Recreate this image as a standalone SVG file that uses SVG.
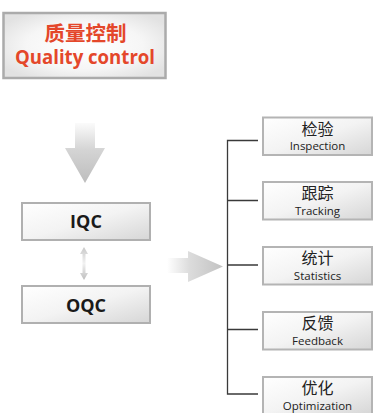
<svg xmlns="http://www.w3.org/2000/svg" width="374" height="413" viewBox="0 0 374 413">
<defs>
<radialGradient id="gTitle" cx="0.5" cy="0.5" r="0.6">
<stop offset="0" stop-color="#ffffff"/>
<stop offset="0.6" stop-color="#f6f6f6"/>
<stop offset="1" stop-color="#e2e2e2"/>
</radialGradient>
<linearGradient id="gBox" x1="0" y1="0" x2="1" y2="1">
<stop offset="0" stop-color="#ffffff"/>
<stop offset="0.5" stop-color="#f3f3f3"/>
<stop offset="1" stop-color="#d6d6d6"/>
</linearGradient>
<linearGradient id="gDown" x1="0" y1="0" x2="0" y2="1">
<stop offset="0" stop-color="#fbfbfb"/>
<stop offset="0.45" stop-color="#d4d4d4"/>
<stop offset="1" stop-color="#bdbdbd"/>
</linearGradient>
<linearGradient id="gRight" x1="0" y1="0" x2="1" y2="0">
<stop offset="0" stop-color="#ffffff"/>
<stop offset="0.4" stop-color="#dcdcdc"/>
<stop offset="1" stop-color="#c2c2c2"/>
</linearGradient>
<linearGradient id="gDbl" x1="0" y1="0" x2="0" y2="1">
<stop offset="0" stop-color="#c8c8c8"/>
<stop offset="0.5" stop-color="#f2f2f2"/>
<stop offset="1" stop-color="#bdbdbd"/>
</linearGradient>
</defs>
<style>
.box{fill:url(#gBox);stroke:#b4b4b4;stroke-width:2}
.mid{fill:url(#gBox);stroke:#b0b0b0;stroke-width:2}
.cn{font-family:"Noto Sans CJK SC",sans-serif;font-size:16px;fill:#222;text-anchor:middle}
.en{font-family:"Open Sans","Liberation Sans",sans-serif;font-size:11.5px;fill:#222;text-anchor:middle}
.big{font-family:"Open Sans","Liberation Sans",sans-serif;font-size:18px;font-weight:bold;fill:#1a1a1a;text-anchor:middle}
.line{fill:none;stroke:#3a3a3a;stroke-width:1.3}
</style>

<g id="title">
<rect x="3.5" y="13" width="162" height="65" fill="url(#gTitle)" stroke="#ababab" stroke-width="2.5"/>
<text x="85.5" y="40.5" font-family="Noto Sans CJK SC,sans-serif" font-size="20.5" font-weight="bold" fill="#e4472a" text-anchor="middle">质量控制</text>
<text x="85" y="64" font-family="Open Sans,Liberation Sans,sans-serif" font-size="19" font-weight="bold" fill="#e4472a" text-anchor="middle" textLength="140" lengthAdjust="spacingAndGlyphs">Quality control</text>
</g>

<g id="arrow-down">
<polygon points="75,123 95,123 95,148 105,148 85,183 65,148 75,148" fill="url(#gDown)"/>
</g>

<g id="iqc">
<rect x="22" y="203" width="128" height="37" class="mid"/>
<text x="86" y="228" class="big">IQC</text>
</g>

<g id="oqc">
<rect x="22" y="286" width="128" height="37" class="mid"/>
<text x="86" y="311.5" class="big">OQC</text>
</g>

<g id="arrow-double">
<polygon points="84,247 88,254 85.5,254 85.5,273 88,273 84,280 80,273 82.5,273 82.5,254 80,254" fill="url(#gDbl)"/>
</g>

<g id="arrow-right">
<polygon points="167,258 188,258 188,251 223,266.5 188,282 188,273 167,273" fill="url(#gRight)"/>
</g>

<g id="connectors">
<path class="line" d="M258,140.5 H227.5 V394 H258 M227.5,200.5 H258 M227.5,265 H258 M227.5,329.5 H258"/>
</g>

<g id="inspection">
<rect x="263" y="117.5" width="109" height="37.5" class="box"/>
<text x="317.5" y="134.5" class="cn">检验</text>
<text x="317.5" y="150" class="en">Inspection</text>
</g>

<g id="tracking">
<rect x="263" y="182" width="109" height="37.5" class="box"/>
<text x="317.5" y="199" class="cn">跟踪</text>
<text x="317.5" y="214.5" class="en">Tracking</text>
</g>

<g id="statistics">
<rect x="263" y="247" width="109" height="37.5" class="box"/>
<text x="317.5" y="264" class="cn">统计</text>
<text x="317.5" y="279.5" class="en">Statistics</text>
</g>

<g id="feedback">
<rect x="263" y="312" width="109" height="37.5" class="box"/>
<text x="317.5" y="329" class="cn">反馈</text>
<text x="317.5" y="344.5" class="en">Feedback</text>
</g>

<g id="optimization">
<rect x="263" y="377" width="109" height="37.5" class="box"/>
<text x="317.5" y="394" class="cn">优化</text>
<text x="317.5" y="409.5" class="en">Optimization</text>
</g>
</svg>
